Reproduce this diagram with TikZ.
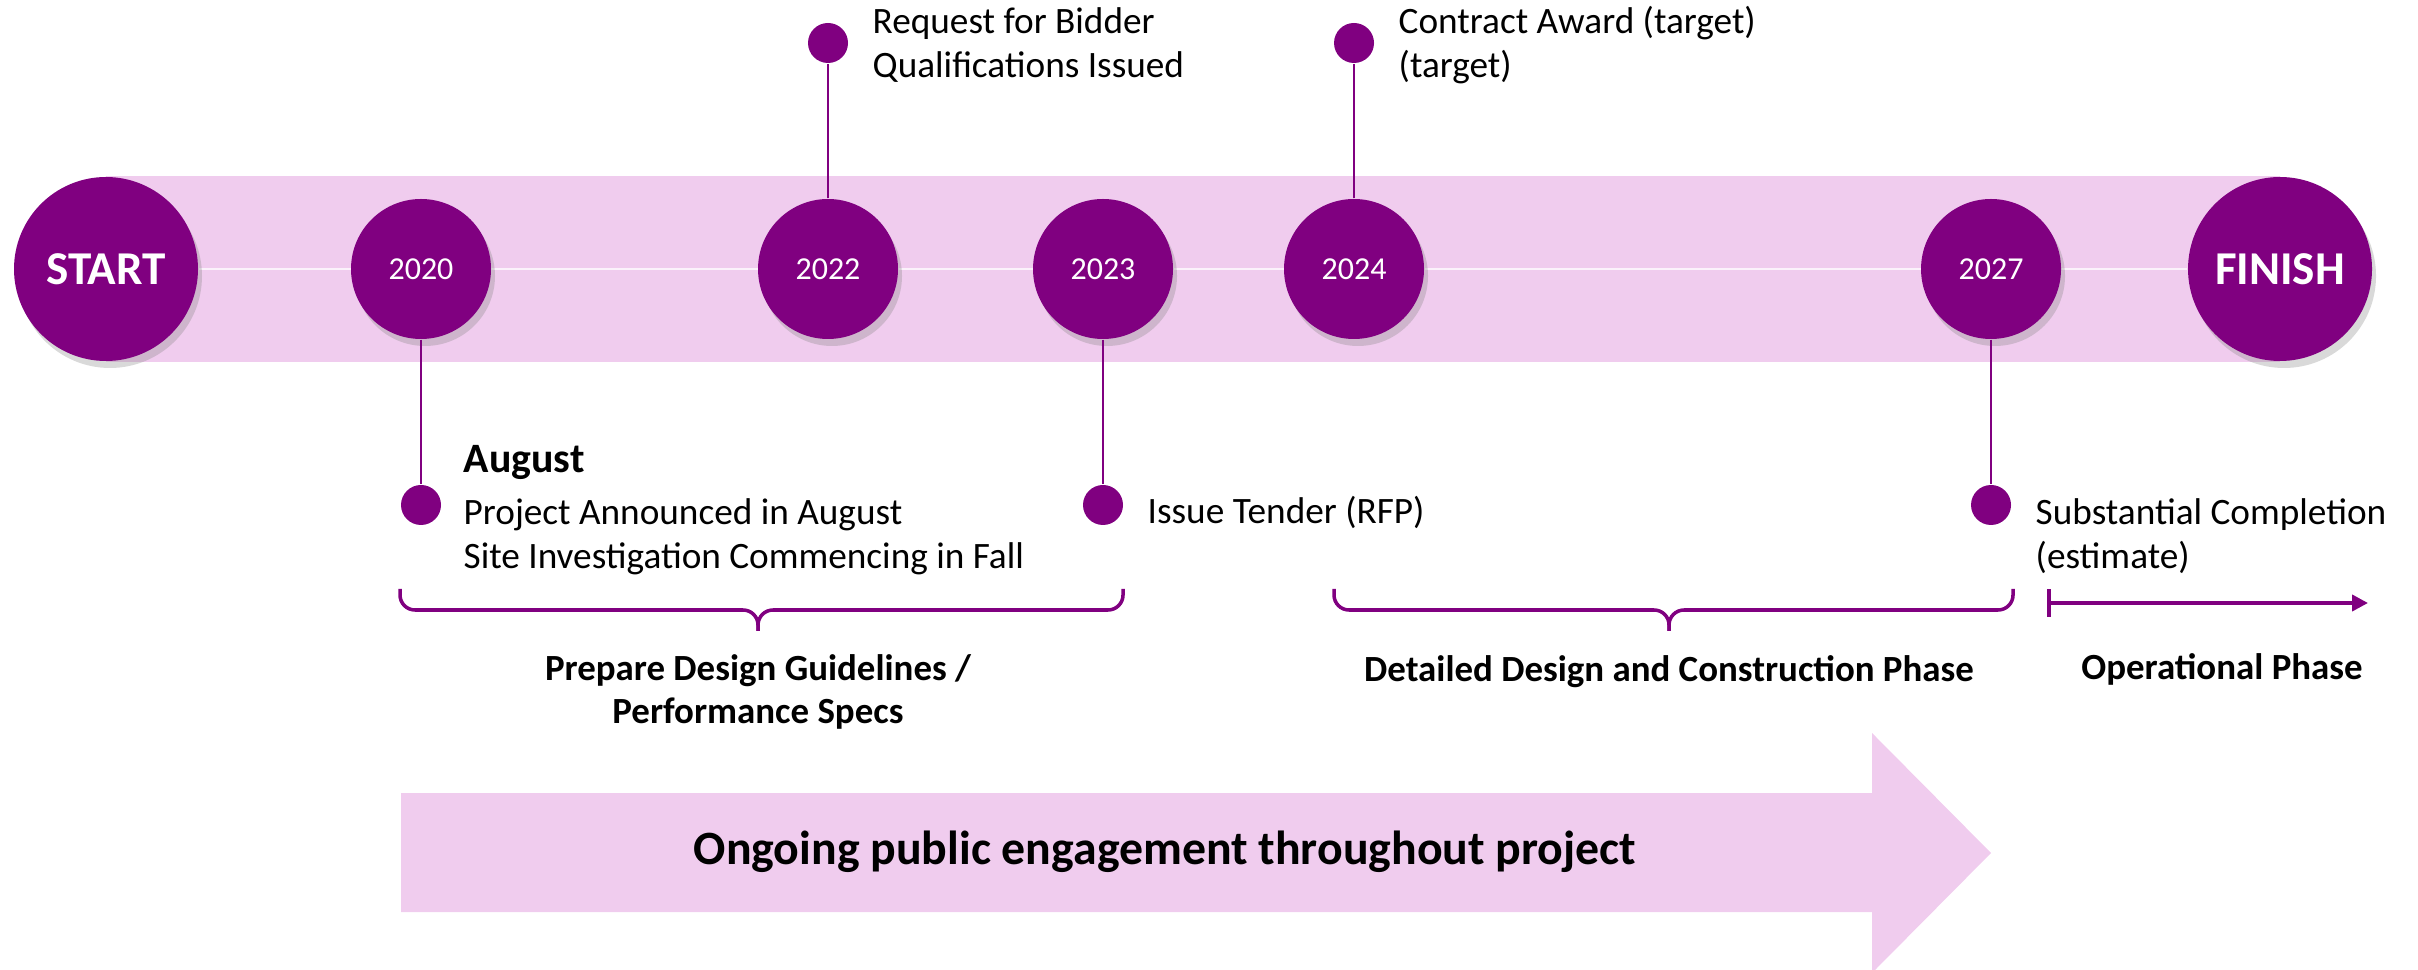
\documentclass[tikz,border=0pt]{standalone}
\usepackage{fontspec}
\setmainfont{Carlito}
\usetikzlibrary{shadows,backgrounds,arrows.meta}
\definecolor{plum}{HTML}{800080}
\definecolor{band}{HTML}{F0CCEE}

\begin{document}
\begin{tikzpicture}[x=0.1mm, y=-0.1mm,
    year/.style={circle, fill=plum, minimum size=14mm, inner sep=0pt, text=white,
      font=\fontsize{9.1}{11}\selectfont,
      drop shadow={shadow xshift=0.4mm, shadow yshift=-0.7mm, opacity=0.3}},
    ends/.style={year, minimum size=18.4mm, font=\fontsize{13.4}{16}\selectfont\bfseries},
    dot/.style={circle, fill=plum, minimum size=4mm, inner sep=0pt},
    stem/.style={draw=plum, line width=0.6pt},
    note/.style={anchor=base west, align=left, inner sep=0pt, font=\fontsize{10.6}{12.8}\selectfont},
    phase/.style={anchor=base, align=center, inner sep=0pt, font=\fontsize{10.5}{12.5}\selectfont\bfseries},
    bracket/.style={draw=plum, line width=1pt, rounded corners=1.5mm}]
  \useasboundingbox (0,0) rectangle (2418,970);

  % milestones on the time line
  \node[ends] (start) at (106,269) {START};
  \node[year] (y2020) at (421,269) {2020};
  \node[year] (y2022) at (828,269) {2022};
  \node[year] (y2023) at (1103,269) {2023};
  \node[year] (y2024) at (1354,269) {2024};
  \node[year] (y2027) at (1991,269) {2027};
  \node[ends] (finish) at (2280,269) {FINISH};

  \begin{scope}[on background layer]
    \fill[band] (start.center) rectangle (2280,362);
    \fill[band] (106,176) rectangle (finish.center);
    \draw[white!75!band, line width=0.7pt] (start) -- (finish);
  \end{scope}

  % events
  \node[dot] (d2022) at (828,43) {};
  \node[dot] (d2024) at (1354,43) {};
  \node[dot] (d2020) at (421,505) {};
  \node[dot] (d2023) at (1103,505) {};
  \node[dot] (d2027) at (1991,505) {};
  \foreach \y in {2020,2022,2023,2024,2027}
    \draw[stem] (y\y) -- (d\y);

  % (base of a two-line note is its last line)
  \node[note] (bid) at (872,78) {Request for Bidder\\Qualifications Issued};
  \node[note] (award) at (1398,78) {Contract Award (target)\\(target)};
  \node[note, font=\fontsize{11.9}{14}\selectfont\bfseries] (aug) at (463,473) {August};
  \node[note] (announce) at (463,569) {Project Announced in August\\Site Investigation Commencing in Fall};
  \node[note] (tender) at (1147,524) {Issue Tender (RFP)};
  \node[note] (complete) at (2035,569) {Substantial Completion\\(estimate)};

  % phases
  \draw[bracket] (400,589) |- (758,610) -- (758,631);
  \draw[bracket] (1123,589) |- (758,610) -- (758,631);
  \draw[bracket] (1334,589) |- (1669,610) -- (1669,631);
  \draw[bracket] (2013,589) |- (1669,610) -- (1669,631);
  \coordinate (opA) at (2047,603);
  \coordinate (opB) at (2368,603);
  \draw[plum, line width=1.1pt, {Bar[width=2.8mm]}-{Triangle[length=1.6mm,width=1.6mm]}] (opA) -- (opB);
  \node[phase] (design) at (758,724) {Prepare Design Guidelines /\\Performance Specs};
  \node[phase] (build) at (1669,682) {Detailed Design and Construction Phase};
  \node[phase] (oper) at (2222,680) {Operational Phase};

  % engagement arrow
  \fill[band] (401,793) -- (1872,793) -- (1872,733) -- (1991,853) -- (1872,973) -- (1872,912) -- (401,912) -- cycle;
  \node[font=\fontsize{13.6}{16}\selectfont\bfseries] (engage) at (1165,852) {Ongoing public engagement throughout project};
\end{tikzpicture}
\end{document}
